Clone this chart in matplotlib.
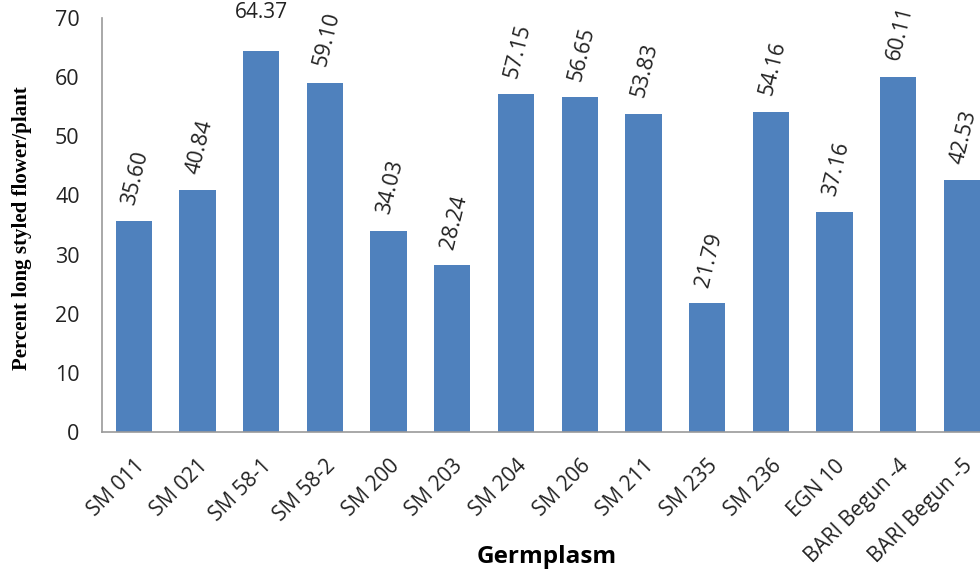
import matplotlib.pyplot as plt
from matplotlib.transforms import ScaledTranslation

germplasm = ["SM 011", "SM 021", "SM 58-1", "SM 58-2", "SM 200", "SM 203", "SM 204",
             "SM 206", "SM 211", "SM 235", "SM 236", "EGN 10", "BARI Begun -4", "BARI Begun -5"]
percent = [35.60, 40.84, 64.37, 59.10, 34.03, 28.24, 57.15, 56.65, 53.83, 21.79, 54.16, 37.16, 60.11, 42.53]
labels = ["%.2f" % v for v in percent]

fig = plt.figure(figsize=(9.8, 5.71), dpi=100)
ax = fig.add_axes([0.104, 0.2434, 0.910, 0.725])

x = range(len(germplasm))
ax.bar(x, percent, width=0.57, color="#4f81bd")

# value labels, slanted like the original (the tallest one sits flat at the top)
for i, v in enumerate(percent):
    if v > 63:
        ax.text(i, v + 6.5, labels[i], ha="center", va="center", fontsize=15,
                family="Open Sans", color="#222222", clip_on=False)
    else:
        ax.text(i + 0.03, v + 2.4, labels[i], ha="center", va="bottom", fontsize=15.5,
                rotation=76, family="Open Sans", color="#222222")

ax.set_xlim(-0.5, len(germplasm) - 0.5)
ax.set_ylim(0, 70)
ax.set_yticks(range(0, 71, 10))
ax.set_xticks(list(x))
ax.set_xticklabels(germplasm, rotation=45, ha="right", rotation_mode="anchor",
                   fontsize=15, family="Open Sans")
shift = ScaledTranslation(2 / 100, 0, fig.dpi_scale_trans)
for t in ax.get_xticklabels():
    t.set_transform(t.get_transform() + shift)
for t in ax.get_yticklabels():
    t.set_family("Open Sans")
    t.set_fontsize(15.5)
ax.tick_params(axis="both", length=0, colors="#222222")
ax.tick_params(axis="y", pad=16)
ax.tick_params(axis="x", pad=17)

for s in ["top", "right"]:
    ax.spines[s].set_visible(False)
ax.spines["left"].set_color("#999999")
ax.spines["bottom"].set_color("#999999")
ax.spines["left"].set_linewidth(1.2)
ax.spines["bottom"].set_linewidth(1.2)

fig.text(22 / 980, 0.6, "Percent long styled flower/plant", rotation=90,
         ha="center", va="center", family="Liberation Serif",
         fontweight="bold", fontsize=15)
fig.text(0.558, 0.025, "Germplasm", ha="center", va="center", fontsize=17.5,
         fontweight="bold", family="Open Sans")

fig.savefig("out.png", dpi=100)
